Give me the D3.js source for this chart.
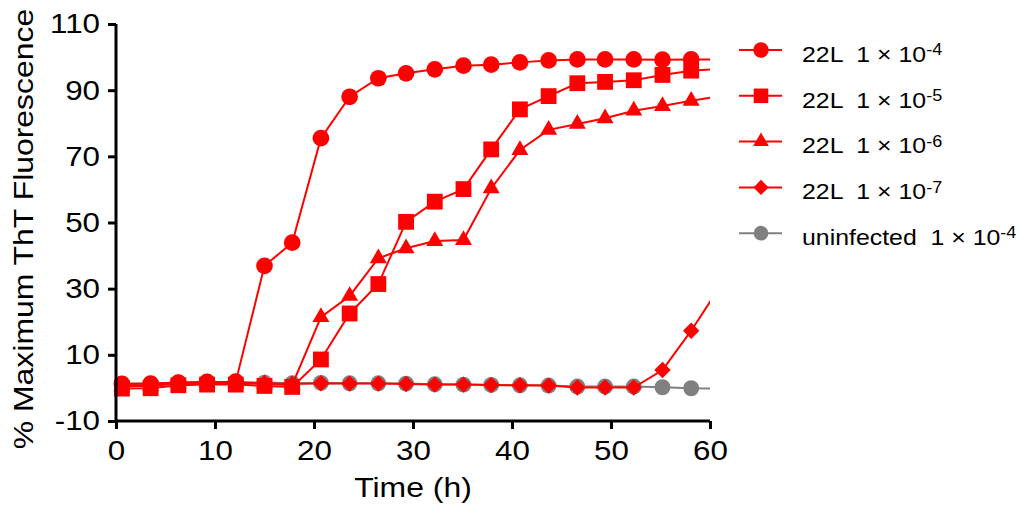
<!DOCTYPE html>
<html>
<head>
<meta charset="utf-8">
<script src="https://cdn.jsdelivr.net/npm/d3@7"></script>
<style>
  html, body { margin: 0; padding: 0; background: #fff; }
  svg { display: block; }
  text { font-family: "Liberation Sans", Arial, sans-serif; fill: #000; }
</style>
</head>
<body>
<svg id="chart" width="1024" height="517"></svg>
<script>
// ---- data ----
const times = [0.6, 3.5, 6.3, 9.2, 12.1, 15.0, 17.8, 20.7, 23.6, 26.5, 29.3, 32.2, 35.1, 37.9, 40.8, 43.7, 46.6, 49.4, 52.3, 55.2, 58.1, 60.9];
const circle1e4 = [1.2, 1.3, 1.6, 1.8, 1.9, 36.9, 43.9, 75.5, 88.0, 93.6, 95.1, 96.3, 97.4, 97.7, 98.4, 99.0, 99.3, 99.3, 99.3, 99.2, 99.3, 99.2];
const square1e5 = [-0.2, -0.1, 0.8, 1.0, 1.0, 0.6, 0.3, 8.6, 22.5, 31.4, 50.2, 56.3, 60.1, 72.1, 84.2, 88.2, 92.1, 92.5, 93.0, 94.6, 95.9, 96.4];
const triangle1e6 = [0.5, 0.6, 1.3, 1.5, 1.5, 1.2, 0.9, 21.4, 27.8, 39.2, 42.2, 44.4, 44.7, 60.3, 71.9, 78.0, 79.8, 81.5, 83.8, 85.2, 86.8, 88.1];
const diamond1e7 = [0.8, 0.9, 1.4, 1.6, 1.6, 1.4, 1.2, 1.4, 1.3, 1.3, 1.2, 1.0, 1.0, 0.9, 0.8, 0.7, 0.1, 0.1, 0.1, 5.4, 17.3, 30.1];
const uninfected1e4 = [1.3, 1.3, 1.6, 1.8, 1.8, 1.6, 1.4, 1.5, 1.4, 1.4, 1.3, 1.1, 1.0, 0.9, 0.8, 0.7, 0.4, 0.4, 0.4, 0.2, -0.1, -0.2];

const xTicks = [0, 10, 20, 30, 40, 50, 60];
const yTicks = [-10, 10, 30, 50, 70, 90, 110];
const legendNames = ["22L", "22L", "22L", "22L", "uninfected"];
const legendExponents = ["-4", "-5", "-6", "-7", "-4"];
const xTitle = "Time (h)";
const yTitle = "% Maximum ThT Fluorescence";

// ---- setup ----
const series = [
  { key: "c", values: circle1e4, shape: d3.symbolCircle, rot: 0, color: "#ff0000", size: 220 },
  { key: "s", values: square1e5, shape: d3.symbolSquare, rot: 0, color: "#ff0000", size: 250 },
  { key: "t", values: triangle1e6, shape: d3.symbolTriangle, rot: 0, color: "#ff0000", size: 125 },
  { key: "d", values: diamond1e7, shape: d3.symbolSquare, rot: 45, color: "#ff0000", size: 135 },
  { key: "g", values: uninfected1e4, shape: d3.symbolCircle, rot: 0, color: "#808080", size: 200 }
];
const drawOrder = ["g", "d", "t", "c", "s"];

const svg = d3.select("#chart");
const x = d3.scaleLinear().domain([0, 60]).range([116, 710]);
const y = d3.scaleLinear().domain([-10, 110]).range([421, 24]);
const TS = 1.12; // horizontal text stretch seen in reference
const fmt = d => String(d).replace("\u2212", "-");

svg.append("defs").append("clipPath").attr("id", "plotclip")
  .append("rect")
  .attr("x", x(0)).attr("y", 0)
  .attr("width", x(60) - x(0)).attr("height", 517);

const line = d3.line().x(d => x(d[0])).y(d => y(d[1]));

const plot = svg.append("g");
drawOrder.forEach(k => {
  const s = series.find(z => z.key === k);
  const pts = times.map((t, i) => [t, s.values[i]]);
  const g = plot.append("g");
  g.append("path")
    .attr("d", line(pts))
    .attr("fill", "none")
    .attr("stroke", s.color)
    .attr("stroke-width", 2)
    .attr("clip-path", "url(#plotclip)");
  g.selectAll("path.m")
    .data(pts.filter(p => p[0] <= 60))
    .join("path")
    .attr("class", "m")
    .attr("transform", p => `translate(${x(p[0])},${y(p[1])}) rotate(${s.rot})`)
    .attr("d", d3.symbol().type(s.shape).size(s.size))
    .attr("fill", s.color);
});

// ---- axes ----
const xAxis = svg.append("g")
  .attr("transform", `translate(0,${y(-10)})`)
  .call(d3.axisBottom(x).tickValues(xTicks).tickSize(8).tickSizeOuter(0).tickPadding(11).tickFormat(fmt));
const yAxis = svg.append("g")
  .attr("transform", `translate(${x(0)},0)`)
  .call(d3.axisLeft(y).tickValues(yTicks).tickSize(8).tickSizeOuter(0).tickPadding(8).tickFormat(fmt));

[xAxis, yAxis].forEach(a => {
  a.select(".domain").attr("stroke", "#000").attr("stroke-width", 3);
  a.selectAll(".tick line").attr("stroke", "#000").attr("stroke-width", 3);
  a.selectAll(".tick text")
    .attr("font-size", 28)
    .attr("font-family", "Liberation Sans, Arial, sans-serif")
    .attr("fill", "#000")
    .attr("transform", `scale(${TS},1)`);
});
yAxis.selectAll(".tick text").attr("x", -16 / TS);
yAxis.select(".domain").attr("d", `M0,${y(110)}V${y(-10)}`);
xAxis.select(".domain").attr("d", `M${x(0)},0H${x(60)}`);

// ---- axis titles ----
svg.append("text")
  .attr("transform", `translate(${(x(0) + x(60)) / 2},497) scale(1.14,1)`)
  .attr("text-anchor", "middle")
  .attr("font-size", 28)
  .text(xTitle);
svg.append("text")
  .attr("transform", `translate(33,229) rotate(-90) scale(1.14,1)`)
  .attr("text-anchor", "middle")
  .attr("font-size", 28)
  .text(yTitle);

// ---- legend ----
const leg = svg.append("g");
series.forEach((s, i) => {
  const cy = 50 + i * 45.8;
  leg.append("line")
    .attr("x1", 739).attr("x2", 782).attr("y1", cy).attr("y2", cy)
    .attr("stroke", s.color).attr("stroke-width", 2);
  leg.append("path")
    .attr("transform", `translate(761,${cy}) rotate(${s.rot})`)
    .attr("d", d3.symbol().type(s.shape).size(s.size * 0.85))
    .attr("fill", s.color);
  const t = leg.append("text")
    .attr("transform", `translate(802,${cy + 11.7}) scale(1.13,1)`)
    .attr("font-size", 22)
    .style("white-space", "pre");
  t.append("tspan").text(legendNames[i] + "  1 × 10");
  t.append("tspan")
    .attr("font-size", 16)
    .attr("dy", -6.5)
    .text(legendExponents[i]);
});
</script>
</body>
</html>
